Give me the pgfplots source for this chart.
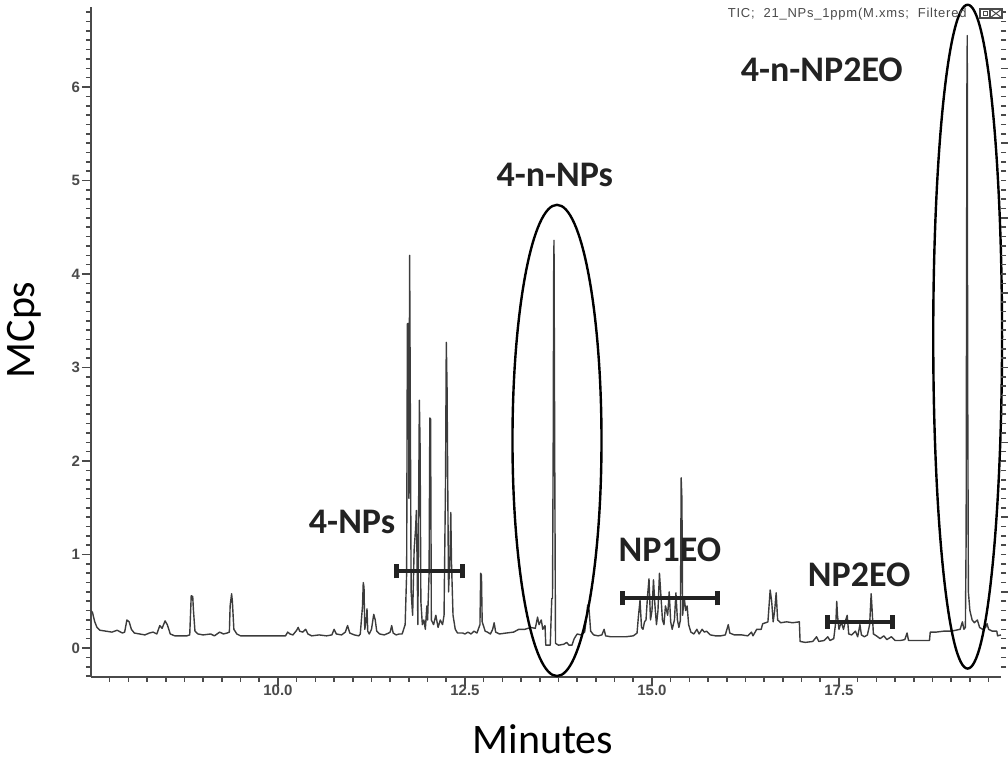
\documentclass[border=0pt]{standalone}
\usepackage{pgfplots}
\pgfplotsset{compat=1.18}
\usepackage{pgfplotstable}
\usepackage{fontspec}
\setmainfont{Carlito}
\newfontfamily\tickfont{Liberation Sans}
\newfontfamily\ticfont[LetterSpace=6]{Liberation Sans}
\definecolor{trace}{HTML}{3C3C3C}
\definecolor{axisgray}{HTML}{4A4A4A}
\definecolor{ink}{HTML}{222222}

% TIC trace, minutes vs MCps
\pgfplotstableread{
t y
7.50 0.40
7.52 0.38
7.55 0.28
7.58 0.22
7.62 0.19
7.70 0.18
7.78 0.17
7.85 0.19
7.92 0.16
7.95 0.17
7.98 0.30
8.01 0.28
8.04 0.20
8.08 0.16
8.15 0.15
8.22 0.14
8.28 0.16
8.33 0.17
8.38 0.15
8.42 0.24
8.45 0.21
8.49 0.29
8.52 0.25
8.56 0.15
8.62 0.13
8.70 0.13
8.78 0.13
8.82 0.14
8.83 0.35
8.84 0.56
8.86 0.55
8.87 0.40
8.89 0.18
8.93 0.15
9.00 0.14
9.10 0.15
9.15 0.13
9.22 0.17
9.27 0.15
9.32 0.16
9.35 0.17
9.36 0.45
9.38 0.58
9.39 0.50
9.41 0.20
9.45 0.15
9.50 0.13
9.60 0.13
9.70 0.13
9.80 0.13
9.90 0.13
10.00 0.13
10.10 0.13
10.13 0.17
10.16 0.15
10.20 0.14
10.25 0.19
10.27 0.22
10.29 0.18
10.33 0.17
10.37 0.20
10.40 0.15
10.45 0.13
10.55 0.14
10.65 0.13
10.72 0.14
10.75 0.20
10.78 0.15
10.85 0.14
10.90 0.17
10.93 0.24
10.96 0.16
11.02 0.14
11.08 0.13
11.10 0.15
11.13 0.45
11.14 0.70
11.15 0.65
11.16 0.20
11.18 0.30
11.19 0.42
11.20 0.18
11.22 0.15
11.25 0.20
11.28 0.36
11.30 0.30
11.32 0.18
11.36 0.15
11.42 0.14
11.48 0.16
11.50 0.17
11.52 0.24
11.54 0.16
11.58 0.14
11.62 0.15
11.66 0.15
11.70 0.25
11.72 0.80
11.73 3.47
11.745 3.47
11.75 1.60
11.76 4.20
11.77 2.40
11.78 0.60
11.80 0.35
11.82 1.05
11.84 1.28
11.85 1.47
11.86 0.90
11.87 0.25
11.88 1.50
11.89 2.65
11.90 2.15
11.91 0.50
11.93 0.25
11.95 0.30
11.97 0.20
11.99 0.45
12.00 0.30
12.02 0.80
12.03 2.46
12.04 2.45
12.05 0.30
12.08 0.25
12.11 0.35
12.14 0.22
12.17 0.30
12.20 0.25
12.22 0.35
12.24 1.80
12.25 3.27
12.26 2.80
12.28 0.60
12.30 1.00
12.31 1.45
12.32 0.90
12.34 0.35
12.37 0.20
12.40 0.16
12.47 0.16
12.50 0.15
12.54 0.17
12.58 0.15
12.62 0.18
12.66 0.16
12.70 0.25
12.71 0.80
12.72 0.78
12.73 0.28
12.77 0.18
12.80 0.17
12.84 0.15
12.87 0.20
12.89 0.27
12.91 0.17
12.96 0.15
13.05 0.16
13.15 0.17
13.22 0.20
13.30 0.20
13.38 0.22
13.44 0.21
13.47 0.33
13.49 0.25
13.52 0.30
13.54 0.20
13.57 0.24
13.58 0.03
13.64 0.03
13.66 0.53
13.67 0.53
13.68 2.33
13.685 3.96
13.69 4.36
13.70 2.00
13.71 0.05
13.75 0.03
13.82 0.04
13.86 0.06
13.89 0.03
13.93 0.03
13.96 0.10
14.00 0.15
14.05 0.14
14.10 0.17
14.12 0.30
14.14 0.46
14.16 0.40
14.18 0.18
14.22 0.14
14.28 0.13
14.33 0.14
14.36 0.20
14.38 0.13
14.45 0.12
14.55 0.12
14.65 0.12
14.75 0.13
14.80 0.16
14.82 0.35
14.84 0.51
14.86 0.22
14.88 0.20
14.90 0.28
14.92 0.30
14.94 0.55
14.96 0.74
14.98 0.30
15.00 0.40
15.02 0.73
15.04 0.45
15.06 0.25
15.08 0.40
15.10 0.80
15.12 0.55
15.14 0.30
15.16 0.25
15.18 0.45
15.21 0.35
15.23 0.60
15.25 0.28
15.27 0.20
15.30 0.30
15.32 0.59
15.34 0.30
15.36 0.22
15.38 0.30
15.39 1.82
15.40 1.60
15.41 0.35
15.43 0.55
15.45 0.40
15.47 0.45
15.49 0.25
15.52 0.17
15.56 0.15
15.60 0.20
15.63 0.15
15.67 0.20
15.70 0.17
15.73 0.18
15.78 0.14
15.85 0.13
15.92 0.13
15.98 0.14
16.02 0.25
16.04 0.16
16.10 0.14
16.20 0.14
16.28 0.13
16.33 0.17
16.35 0.13
16.40 0.20
16.46 0.20
16.48 0.26
16.52 0.27
16.55 0.28
16.58 0.62
16.60 0.50
16.62 0.28
16.64 0.40
16.66 0.59
16.68 0.30
16.72 0.27
16.80 0.28
16.88 0.27
16.97 0.28
16.98 0.07
17.05 0.06
17.15 0.07
17.20 0.12
17.23 0.07
17.30 0.08
17.35 0.12
17.38 0.08
17.43 0.10
17.46 0.30
17.47 0.50
17.48 0.35
17.50 0.20
17.53 0.28
17.56 0.20
17.59 0.30
17.61 0.35
17.63 0.15
17.67 0.14
17.72 0.18
17.75 0.12
17.78 0.25
17.80 0.14
17.84 0.12
17.88 0.14
17.91 0.25
17.93 0.58
17.94 0.45
17.96 0.15
18.00 0.13
18.05 0.10
18.10 0.13
18.14 0.09
18.20 0.12
18.25 0.08
18.32 0.08
18.38 0.09
18.41 0.16
18.43 0.08
18.50 0.08
18.60 0.08
18.71 0.08
18.72 0.17
18.80 0.17
18.90 0.18
19.00 0.18
19.06 0.19
19.12 0.20
19.15 0.28
19.17 0.20
19.19 0.22
19.20 1.20
19.21 5.95
19.215 6.55
19.22 3.00
19.23 0.60
19.25 0.40
19.28 0.30
19.31 0.27
19.35 0.30
19.38 0.22
19.42 0.20
19.46 0.22
19.48 0.26
19.50 0.20
19.55 0.18
19.61 0.18
19.62 0.13
19.666 0.14
}\tic

\begin{document}
\begin{tikzpicture}
\path[use as bounding box] (-45.5pt,-43pt) rectangle (458.5pt,338.5pt);
\begin{axis}[
  scale only axis, width=455pt, height=335pt,
  xmin=7.5, xmax=19.666, ymin=-0.31, ymax=6.856,
  axis x line*=bottom, axis y line*=left,
  axis line style={axisgray, line width=1pt, -},
  tick align=outside,
  tick style={axisgray, line width=0.8pt},
  major tick length=4.5pt, minor tick length=2.5pt,
  xtick={10,12.5,15,17.5},
  minor xtick={7.75,8,...,19.5},
  ytick={0,...,6},
  minor ytick={-0.3,-0.2,...,6.8},
  ticklabel style={font=\tickfont\bfseries\fontsize{7.5}{9}\selectfont, text=axisgray},
  xticklabel style={yshift=4pt, /pgf/number format/fixed, /pgf/number format/fixed zerofill, /pgf/number format/precision=1},
  yticklabel style={xshift=2.5pt},
  /pgf/number format/assume math mode=true,
  xlabel={Minutes}, ylabel={MCps},
  every axis x label/.style={at={(rel axis cs:0.4967,0)}, anchor=center, yshift=-31pt, font=\fontsize{21}{25}\selectfont},
  every axis y label/.style={at={(rel axis cs:0,0.518)}, anchor=center, xshift=-33.5pt, rotate=90, font=\fontsize{21}{25}\selectfont},
  clip=false,
]
\addplot[trace, line width=0.7pt, line join=round] table[x=t, y=y] {\tic};

% circled peaks
\draw[black, line width=1.2pt] (axis cs:13.73,2.22) ellipse [x radius=0.595, y radius=2.52];
\draw[black, line width=1.2pt] (axis cs:19.22,3.33) ellipse [x radius=0.46, y radius=3.55];

% ranges
\draw[ink, line width=2pt] (axis cs:11.59,0.82) -- (axis cs:12.46,0.82);
\draw[ink, line width=2.5pt] ([yshift=-3.5pt]axis cs:11.59,0.82) -- ([yshift=3.5pt]axis cs:11.59,0.82);
\draw[ink, line width=2.5pt] ([yshift=-3.5pt]axis cs:12.46,0.82) -- ([yshift=3.5pt]axis cs:12.46,0.82);
\draw[ink, line width=2pt] (axis cs:14.60,0.53) -- (axis cs:15.87,0.53);
\draw[ink, line width=2.5pt] ([yshift=-3.5pt]axis cs:14.60,0.53) -- ([yshift=3.5pt]axis cs:14.60,0.53);
\draw[ink, line width=2.5pt] ([yshift=-3.5pt]axis cs:15.87,0.53) -- ([yshift=3.5pt]axis cs:15.87,0.53);
\draw[ink, line width=2pt] (axis cs:17.35,0.28) -- (axis cs:18.22,0.28);
\draw[ink, line width=2.5pt] ([yshift=-3.5pt]axis cs:17.35,0.28) -- ([yshift=3.5pt]axis cs:17.35,0.28);
\draw[ink, line width=2.5pt] ([yshift=-3.5pt]axis cs:18.22,0.28) -- ([yshift=3.5pt]axis cs:18.22,0.28);

% labels
\begin{scope}[every node/.style={font=\bfseries\fontsize{18}{20}\selectfont, text=ink, inner sep=0pt}]
\node at (axis cs:17.27,6.18) {4-n-NP2EO};
\node at (axis cs:13.70,5.06) {4-n-NPs};
\node at (axis cs:10.99,1.35) {4-NPs};
\node at (axis cs:15.24,1.05) {NP1EO};
\node at (axis cs:17.77,0.78) {NP2EO};
\end{scope}
\end{axis}

% right-hand tick marks
\begin{axis}[
  scale only axis, width=455pt, height=335pt,
  xmin=7.5, xmax=19.666, ymin=-0.31, ymax=6.856,
  hide x axis, axis y line*=right,
  y axis line style={draw=none},
  tick align=outside,
  tick style={axisgray, line width=0.8pt},
  major tick length=4pt, minor tick length=2.5pt,
  ytick={0.6,1.4,...,6.2}, yticklabels={},
  minor ytick={-0.2,-0.1,...,6.8},
]
\end{axis}

% chromatogram window caption
\node[anchor=east, font=\ticfont\fontsize{6.5}{7.5}\selectfont, text=axisgray, inner sep=0pt] at (438pt,331.5pt) {TIC;\ \ 21\_NPs\_1ppm(M.xms;\ \ Filtered};
\draw[axisgray, line width=0.6pt] (444.5pt,329.5pt) rectangle (449.5pt,334pt);
\draw[axisgray, line width=0.5pt] (446pt,330.7pt) rectangle (448pt,332.7pt);
\draw[axisgray, line width=0.6pt] (449.5pt,329.5pt) rectangle (455.5pt,334pt);
\draw[axisgray, line width=0.5pt] (449.5pt,329.5pt) -- (455.5pt,334pt) (449.5pt,334pt) -- (455.5pt,329.5pt);
\end{tikzpicture}
\end{document}
